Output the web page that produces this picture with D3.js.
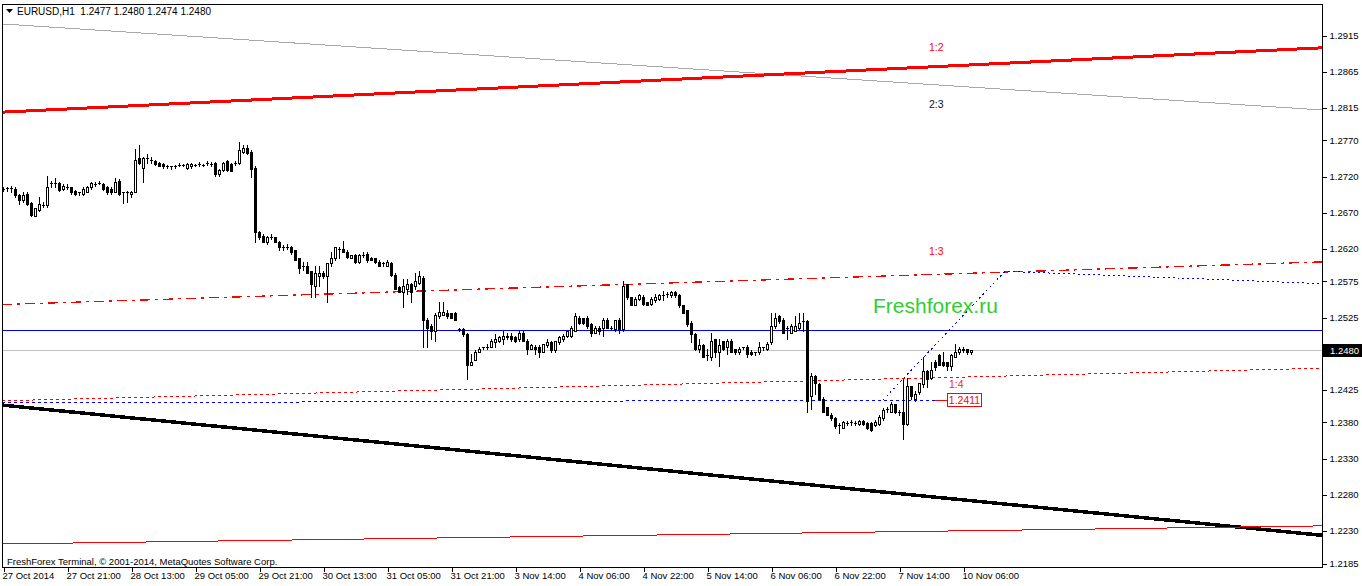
<!DOCTYPE html>
<html><head><meta charset="utf-8">
<script src="https://cdn.jsdelivr.net/npm/d3@7"></script>
<style>
body{margin:0;background:#fff;overflow:hidden}
svg{display:block}
text{font-family:"Liberation Sans",Arial,sans-serif}
</style>
</head><body>
<svg id="c" width="1362" height="586"></svg>
<script>
// ---------- DATA ----------
const symbol = "EURUSD,H1";
const opens = [
1.2703,1.2704,1.2704,1.2703,1.2695,1.2688,1.2696,1.2684,1.2666,1.2674,
1.2681,1.2680,1.2711,1.2711,1.2711,1.2703,1.2706,1.2705,1.2700,1.2698,
1.2696,1.2699,1.2705,1.2710,1.2711,1.2709,1.2706,1.2703,1.2699,1.2714,
1.2698,1.2698,1.2696,1.2699,1.2746,1.2732,1.2746,1.2743,1.2742,1.2739,
1.2738,1.2735,1.2734,1.2734,1.2736,1.2736,1.2732,1.2734,1.2736,1.2738,
1.2736,1.2739,1.2738,1.2739,1.2723,1.2729,1.2742,1.2738,1.2739,1.2739,
1.2754,1.2760,1.2754,1.2732,1.2644,1.2638,1.2629,1.2637,1.2636,1.2630,
1.2623,1.2623,1.2623,1.2618,1.2607,1.2597,1.2596,1.2589,1.2568,1.2583,
1.2586,1.2583,1.2601,1.2607,1.2620,1.2620,1.2616,1.2608,1.2612,1.2602,
1.2612,1.2613,1.2608,1.2607,1.2602,1.2600,1.2597,1.2601,1.2584,1.2567,
1.2560,1.2565,1.2572,1.2568,1.2573,1.2580,1.2522,1.2513,1.2506,1.2527,
1.2529,1.2532,1.2531,1.2532,1.2509,1.2509,1.2502,1.2460,1.2467,1.2478,
1.2484,1.2485,1.2485,1.2491,1.2492,1.2496,1.2498,1.2499,1.2498,1.2495,
1.2504,1.2493,1.2482,1.2485,1.2485,1.2478,1.2487,1.2491,1.2480,1.2491,
1.2495,1.2499,1.2499,1.2507,1.2525,1.2524,1.2525,1.2516,1.2504,1.2511,
1.2511,1.2522,1.2511,1.2509,1.2522,1.2509,1.2571,1.2553,1.2543,1.2551,
1.2554,1.2546,1.2544,1.2550,1.2551,1.2556,1.2557,1.2556,1.2561,1.2556,
1.2542,1.2535,1.2518,1.2502,1.2481,1.2487,1.2473,1.2471,1.2495,1.2478,
1.2492,1.2485,1.2493,1.2481,1.2478,1.2484,1.2485,1.2478,1.2477,1.2477,
1.2484,1.2481,1.2491,1.2513,1.2527,1.2522,1.2510,1.2504,1.2507,1.2510,
1.2520,1.2520,1.2416,1.2444,1.2433,1.2413,1.2401,1.2391,1.2386,1.2376,
1.2373,1.2379,1.2380,1.2379,1.2378,1.2382,1.2379,1.2379,1.2376,1.2378,
1.2386,1.2398,1.2395,1.2405,1.2394,1.2394,1.2378,1.2430,1.2413,1.2422,
1.2433,1.2451,1.2442,1.2464,1.2473,1.2464,1.2463,1.2458,1.2471,1.2477,
1.2482,1.2481,1.2477];
const highs = [
1.2706,1.2706,1.2707,1.2705,1.2696,1.2698,1.2698,1.2685,1.2677,1.2692,
1.2685,1.2721,1.2714,1.2718,1.2713,1.2709,1.2709,1.2706,1.2702,1.2699,
1.2705,1.2707,1.2713,1.2713,1.2714,1.2711,1.2707,1.2705,1.2718,1.2716,
1.2699,1.2700,1.2700,1.2758,1.2764,1.2747,1.2751,1.2747,1.2743,1.2740,
1.2739,1.2736,1.2735,1.2736,1.2739,1.2738,1.2739,1.2739,1.2738,1.2740,
1.2738,1.2742,1.2740,1.2740,1.2731,1.2740,1.2743,1.2739,1.2742,1.2768,
1.2764,1.2763,1.2757,1.2734,1.2645,1.2640,1.2638,1.2640,1.2637,1.2631,
1.2626,1.2627,1.2624,1.2619,1.2608,1.2602,1.2602,1.2590,1.2597,1.2597,
1.2589,1.2600,1.2615,1.2623,1.2623,1.2631,1.2618,1.2612,1.2613,1.2613,
1.2615,1.2615,1.2609,1.2608,1.2604,1.2602,1.2604,1.2602,1.2586,1.2568,
1.2579,1.2578,1.2573,1.2587,1.2589,1.2583,1.2524,1.2516,1.2531,1.2546,
1.2546,1.2535,1.2532,1.2533,1.2510,1.2510,1.2503,1.2474,1.2480,1.2484,
1.2485,1.2488,1.2496,1.2502,1.2499,1.2507,1.2503,1.2503,1.2499,1.2507,
1.2506,1.2495,1.2488,1.2487,1.2487,1.2489,1.2496,1.2492,1.2493,1.2499,
1.2502,1.2507,1.2513,1.2532,1.2527,1.2525,1.2527,1.2517,1.2513,1.2513,
1.2524,1.2524,1.2514,1.2522,1.2524,1.2576,1.2572,1.2554,1.2553,1.2557,
1.2556,1.2547,1.2553,1.2558,1.2557,1.2562,1.2560,1.2562,1.2562,1.2557,
1.2543,1.2536,1.2520,1.2503,1.2495,1.2488,1.2481,1.2504,1.2496,1.2495,
1.2493,1.2495,1.2495,1.2482,1.2484,1.2485,1.2487,1.2480,1.2478,1.2491,
1.2485,1.2491,1.2531,1.2531,1.2528,1.2524,1.2514,1.2516,1.2527,1.2532,
1.2532,1.2521,1.2449,1.2445,1.2434,1.2415,1.2402,1.2393,1.2387,1.2379,
1.2382,1.2382,1.2383,1.2382,1.2383,1.2383,1.2380,1.2380,1.2383,1.2390,
1.2400,1.2402,1.2408,1.2406,1.2397,1.2440,1.2442,1.2431,1.2423,1.2435,
1.2470,1.2453,1.2463,1.2466,1.2474,1.2478,1.2464,1.2474,1.2488,1.2484,
1.2484,1.2482,1.2480];
const lows = [
1.2700,1.2700,1.2699,1.2692,1.2682,1.2685,1.2681,1.2666,1.2665,1.2673,
1.2678,1.2678,1.2706,1.2706,1.2700,1.2702,1.2703,1.2696,1.2695,1.2695,
1.2695,1.2698,1.2703,1.2707,1.2709,1.2702,1.2696,1.2696,1.2698,1.2695,
1.2684,1.2685,1.2692,1.2698,1.2738,1.2713,1.2739,1.2739,1.2736,1.2734,
1.2732,1.2732,1.2731,1.2732,1.2734,1.2734,1.2731,1.2732,1.2734,1.2735,
1.2734,1.2736,1.2735,1.2721,1.2721,1.2728,1.2728,1.2727,1.2736,1.2738,
1.2753,1.2751,1.2720,1.2630,1.2634,1.2629,1.2627,1.2634,1.2629,1.2618,
1.2619,1.2620,1.2613,1.2604,1.2586,1.2591,1.2586,1.2554,1.2554,1.2568,
1.2580,1.2546,1.2596,1.2605,1.2607,1.2615,1.2608,1.2607,1.2601,1.2601,
1.2609,1.2602,1.2604,1.2601,1.2596,1.2597,1.2596,1.2583,1.2564,1.2560,
1.2539,1.2558,1.2547,1.2565,1.2572,1.2485,1.2485,1.2495,1.2492,1.2525,
1.2528,1.2525,1.2524,1.2521,1.2506,1.2500,1.2440,1.2459,1.2466,1.2477,
1.2481,1.2481,1.2484,1.2484,1.2491,1.2488,1.2496,1.2493,1.2491,1.2493,
1.2492,1.2475,1.2481,1.2475,1.2470,1.2477,1.2485,1.2478,1.2478,1.2489,
1.2493,1.2498,1.2498,1.2506,1.2516,1.2516,1.2511,1.2500,1.2503,1.2502,
1.2499,1.2510,1.2509,1.2507,1.2504,1.2507,1.2551,1.2542,1.2542,1.2550,
1.2543,1.2542,1.2543,1.2546,1.2550,1.2550,1.2553,1.2554,1.2554,1.2540,
1.2531,1.2514,1.2491,1.2480,1.2477,1.2470,1.2466,1.2466,1.2471,1.2458,
1.2480,1.2474,1.2477,1.2475,1.2474,1.2481,1.2471,1.2473,1.2473,1.2475,
1.2480,1.2480,1.2489,1.2511,1.2518,1.2503,1.2495,1.2503,1.2506,1.2509,
1.2507,1.2394,1.2398,1.2420,1.2411,1.2394,1.2390,1.2384,1.2373,1.2366,
1.2372,1.2376,1.2376,1.2376,1.2376,1.2376,1.2371,1.2368,1.2375,1.2376,
1.2384,1.2394,1.2394,1.2393,1.2391,1.2357,1.2376,1.2412,1.2409,1.2420,
1.2429,1.2429,1.2440,1.2453,1.2459,1.2458,1.2453,1.2453,1.2470,1.2475,
1.2478,1.2474,1.2474];
const closes = [
1.2703,1.2704,1.2704,1.2694,1.2688,1.2695,1.2682,1.2667,1.2676,1.2682,
1.2681,1.2706,1.2711,1.2711,1.2702,1.2707,1.2706,1.2698,1.2696,1.2698,
1.2703,1.2706,1.2711,1.2710,1.2711,1.2703,1.2698,1.2698,1.2713,1.2696,
1.2698,1.2698,1.2699,1.2743,1.2739,1.2746,1.2746,1.2743,1.2738,1.2735,
1.2734,1.2735,1.2734,1.2735,1.2736,1.2736,1.2738,1.2738,1.2736,1.2738,
1.2736,1.2739,1.2738,1.2723,1.2729,1.2739,1.2729,1.2728,1.2739,1.2757,
1.2760,1.2753,1.2731,1.2644,1.2636,1.2630,1.2636,1.2637,1.2630,1.2623,
1.2623,1.2623,1.2615,1.2605,1.2594,1.2597,1.2587,1.2572,1.2586,1.2587,
1.2583,1.2600,1.2608,1.2622,1.2620,1.2616,1.2609,1.2611,1.2602,1.2612,
1.2612,1.2604,1.2605,1.2602,1.2597,1.2600,1.2602,1.2584,1.2565,1.2561,
1.2568,1.2571,1.2561,1.2576,1.2582,1.2522,1.2511,1.2506,1.2529,1.2533,
1.2533,1.2527,1.2525,1.2522,1.2509,1.2502,1.2460,1.2464,1.2478,1.2482,
1.2484,1.2485,1.2492,1.2495,1.2498,1.2500,1.2500,1.2495,1.2492,1.2504,
1.2493,1.2482,1.2487,1.2481,1.2478,1.2488,1.2491,1.2480,1.2492,1.2498,
1.2500,1.2506,1.2511,1.2527,1.2517,1.2517,1.2513,1.2504,1.2511,1.2506,
1.2522,1.2511,1.2511,1.2521,1.2509,1.2568,1.2553,1.2543,1.2551,1.2556,
1.2544,1.2543,1.2551,1.2554,1.2556,1.2556,1.2557,1.2561,1.2556,1.2542,
1.2532,1.2516,1.2502,1.2481,1.2487,1.2471,1.2473,1.2493,1.2478,1.2487,
1.2481,1.2492,1.2478,1.2477,1.2482,1.2484,1.2474,1.2474,1.2477,1.2485,
1.2484,1.2489,1.2513,1.2524,1.2520,1.2504,1.2510,1.2513,1.2513,1.2518,
1.2520,1.2409,1.2444,1.2435,1.2412,1.2395,1.2391,1.2386,1.2375,1.2376,
1.2380,1.2379,1.2380,1.2379,1.2382,1.2378,1.2372,1.2369,1.2380,1.2387,
1.2397,1.2398,1.2405,1.2394,1.2394,1.2378,1.2430,1.2417,1.2420,1.2434,
1.2451,1.2440,1.2453,1.2456,1.2460,1.2459,1.2458,1.2473,1.2477,1.2481,
1.2480,1.2477,1.2480];

const timeLabels = ["27 Oct 2014","27 Oct 21:00","28 Oct 13:00","29 Oct 05:00","29 Oct 21:00",
  "30 Oct 13:00","31 Oct 05:00","31 Oct 21:00","3 Nov 14:00","4 Nov 06:00","4 Nov 22:00",
  "5 Nov 14:00","6 Nov 06:00","6 Nov 22:00","7 Nov 14:00","10 Nov 06:00"];
const timeLabelBars = [0,16,32,48,64,80,96,112,128,144,160,176,192,208,224,240];
const priceTicks = [1.2915,1.2865,1.2815,1.2770,1.2720,1.2670,1.2620,1.2575,1.2525,
  1.2425,1.2380,1.2330,1.2280,1.2230,1.2185];
const bidPrice = 1.2480;
const levelPrice = 1.2508;     // blue horizontal line
const markPrice = 1.2411;      // blue dashed level + price label
// channel / trend lines: [bar index, price] end points
const line23  = [[-0.25,1.2931],[329.75,1.2812]];
const line12  = [[-0.25,1.2809],[329.75,1.2898]];
const line13  = [[-0.25,1.2543],[329.75,1.2602]];
const line14  = [[-0.25,1.2410],[329.75,1.2455]];
const lineLow = [[-0.25,1.2404],[329.75,1.2224]];
const lineRed = [[-0.25,1.2212],[329.75,1.2237]];
const markLine = [[-0.25,1.2407],[233,1.2411]];
const projection = [[220,1.2411],[250.5,1.2589],[329.75,1.2572]];
const lineTexts = [
  {t:"1:2", bar:231.5, p:1.2898},
  {t:"2:3", bar:231.5, p:1.2820},
  {t:"1:3", bar:231.5, p:1.2616},
  {t:"1:4", bar:236.5, p:1.2433}
];

// ---------- DRAW ----------
const svg = d3.select("#c");
const L = 2, T = 4, R = 1322, B = 567;
const x = d3.scaleLinear().domain([0, 329.75]).range([3, 1322]);
const y = d3.scaleLinear().domain([1.2185, 1.2915]).range([563.5, 35.5]);
const f4 = d3.format(".4f");

svg.append("rect").attr("width",1362).attr("height",586).attr("fill","#fff");
svg.append("defs").append("clipPath").attr("id","plot")
  .append("rect").attr("x",L).attr("y",T).attr("width",R-L).attr("height",B-T);

const g = svg.append("g").attr("clip-path","url(#plot)");
const ln = d3.line().x(d=>x(d[0])).y(d=>y(d[1]));

function addLine(data, color, width, dash){
  const p = g.append("path").attr("d", ln(data)).attr("fill","none")
    .attr("stroke",color).attr("stroke-width",width).attr("shape-rendering","crispEdges");
  if (dash) p.attr("stroke-dasharray", dash);
  return p;
}
function addHLine(price, color){
  const yy = Math.round(y(price)) + 0.5;
  g.append("line").attr("x1",L).attr("x2",R).attr("y1",yy).attr("y2",yy)
    .attr("stroke",color).attr("stroke-width",1).attr("shape-rendering","crispEdges");
}
addLine(line23, "#a8a8a8", 1);
addLine(line12, "#ff0000", 3);
addLine(line13, "#ff0000", 1.3, "10,5,3,5");
addHLine(levelPrice, "#0000ff");
addHLine(bidPrice, "#c0c0c0");
addLine(line14, "#ff0000", 1, "3,3");
addLine(markLine, "#0000ff", 1, "3,3");
addLine(projection, "#0000ff", 1, "2,3");
addLine(lineLow, "#000000", 3.5);
addLine(lineRed, "#ff0000", 1);

// candles
const bars = d3.range(opens.length).map(i=>({i,o:opens[i],h:highs[i],l:lows[i],c:closes[i]}));
const cg = g.append("g").attr("shape-rendering","crispEdges");
bars.forEach(d=>{
  const cx = Math.round(x(d.i));
  const yh = Math.round(y(d.h)), yl = Math.round(y(d.l));
  const yt = Math.round(y(Math.max(d.o,d.c))), yb = Math.round(y(Math.min(d.o,d.c)));
  cg.append("line").attr("x1",cx+0.5).attr("x2",cx+0.5).attr("y1",yh).attr("y2",yl+1)
    .attr("stroke","#000").attr("stroke-width",1);
  if (yb - yt < 1) {
    cg.append("line").attr("x1",cx-1).attr("x2",cx+2).attr("y1",yt+0.5).attr("y2",yt+0.5)
      .attr("stroke","#000").attr("stroke-width",1);
  } else {
    cg.append("rect").attr("x",cx-0.5).attr("y",yt+0.5).attr("width",2).attr("height",yb-yt)
      .attr("fill", d.c>=d.o ? "#fff" : "#000").attr("stroke","#000").attr("stroke-width",1);
  }
});

// line descriptions
lineTexts.forEach(d=>{
  g.append("text").attr("x",x(d.bar)).attr("y",y(d.p)).attr("dy","0.35em")
    .attr("font-size",10.5).attr("fill", d.t==="2:3" ? "#101010" : (d.t==="1:4" ? "#ff2a00" : "#ff0000"))
    .text(d.t);
});

// watermark
g.append("text").attr("x",873).attr("y",313).attr("font-size",21)
  .attr("fill","#33cc33").text("Freshforex.ru");

// 1.2411 price label
const my = Math.round(y(markPrice));
g.append("line").attr("x1",x(markLine[1][0])).attr("x2",947).attr("y1",my+0.5).attr("y2",my+0.5)
  .attr("stroke","#ff0000").attr("shape-rendering","crispEdges");
g.append("rect").attr("x",947.5).attr("y",my-6.5).attr("width",34).attr("height",13)
  .attr("fill","#fff").attr("stroke","#ff0000").attr("shape-rendering","crispEdges");
g.append("text").attr("x",964.5).attr("y",my+0.5).attr("dy","0.35em").attr("text-anchor","middle")
  .attr("font-size",10.5).attr("fill","#ff0000").text(f4(markPrice));

// frame
svg.append("path").attr("d",`M${L+0.5},${B+0.5}V${T+0.5}H${R+0.5}V${B+0.5}H${L+0.5}`)
  .attr("fill","none").attr("stroke","#000").attr("shape-rendering","crispEdges");

// price axis
const ya = svg.append("g").attr("transform",`translate(${R+0.5},0)`)
  .call(d3.axisRight(y).tickValues(priceTicks).tickSize(4).tickPadding(3).tickFormat(f4));
ya.select(".domain").remove();
ya.selectAll("line").attr("shape-rendering","crispEdges");
ya.selectAll("text").attr("font-size",9.5).attr("font-family","Liberation Sans, Arial, sans-serif").attr("fill","#000");

// bid box
const by = Math.round(y(bidPrice));
svg.append("rect").attr("x",R+1).attr("y",by-6).attr("width",40).attr("height",13).attr("fill","#000");
svg.append("text").attr("x",R+8).attr("y",by+0.5).attr("dy","0.35em").attr("font-size",9.5)
  .attr("fill","#fff").text(f4(bidPrice));

// time axis
const xa = svg.append("g").attr("transform",`translate(0,${B+0.5})`)
  .call(d3.axisBottom(x).tickValues(timeLabelBars).tickSize(4).tickFormat((d,i)=>timeLabels[i]));
xa.select(".domain").remove();
xa.selectAll(".tick line").attr("transform","translate(0.5,0)").attr("shape-rendering","crispEdges");
xa.selectAll("text").attr("text-anchor","start").attr("x",-1).attr("y",5).attr("dy","0.71em")
  .attr("font-size",9.5).attr("font-family","Liberation Sans, Arial, sans-serif").attr("fill","#000");

// title
svg.append("path").attr("d","M6,9h7l-3.5,4z").attr("fill","#000");
const n = opens.length - 1;
svg.append("text").attr("x",17).attr("y",15).attr("font-size",10).style("white-space","pre")
  .text(`${symbol}  ${f4(opens[n])} ${f4(highs[n])} ${f4(lows[n])} ${f4(closes[n])}`);

// footer
svg.append("text").attr("x",7).attr("y",565).attr("font-size",9.5)
  .text("FreshForex Terminal, © 2001-2014, MetaQuotes Software Corp.");
</script>
</body></html>
